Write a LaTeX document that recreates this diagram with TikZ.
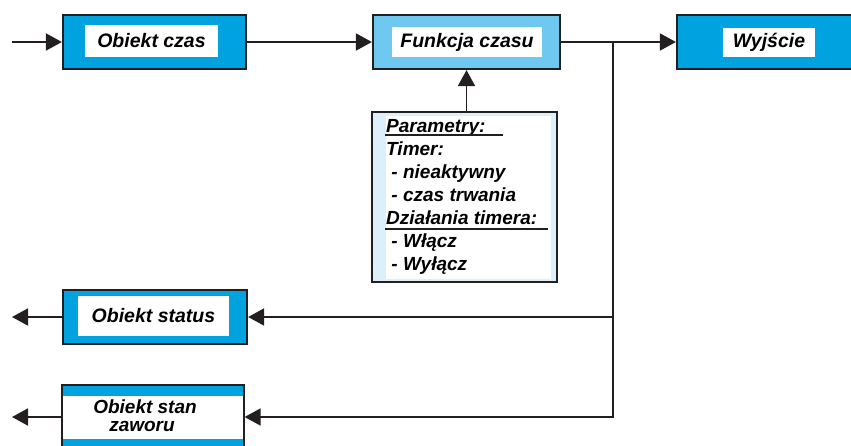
\documentclass[tikz,border=0pt]{standalone}
\usepackage{fontspec}
\setmainfont{Liberation Sans}
\usetikzlibrary{arrows.meta}
\definecolor{cyanblue}{HTML}{00A3E0}
\definecolor{lightblue}{HTML}{6FC8F0}
\definecolor{paleblue}{HTML}{DDEFFA}
\definecolor{darkline}{HTML}{231F20}
\begin{document}
\begin{tikzpicture}[x=1pt,y=-1pt,
  box/.style={draw=darkline,line width=2.2pt,inner sep=0pt,rectangle},
  innerbox/.style={fill=white,inner sep=0pt,rectangle,font=\fontsize{19.5}{20}\selectfont\bfseries\itshape},
  ptext/.style={inner sep=0pt,anchor=base west,font=\fontsize{19}{20}\selectfont\bfseries\itshape},
  ztext/.style={inner sep=0pt,anchor=base,font=\fontsize{19}{20}\selectfont\bfseries\itshape},
  conn/.style={draw=darkline,line width=1.8pt,-{Triangle[length=16pt,width=17pt]}},
  wire/.style={draw=darkline,line width=1.8pt}]
\useasboundingbox (0,0) rectangle (851,445);
\clip (0,0) rectangle (851,445);
% top row
\node[box,fill=cyanblue,minimum width=183pt,minimum height=54pt] (czas) at (154.5,42) {};
\node[innerbox,minimum width=133pt,minimum height=32pt] (czasT) at (151.5,41) {Obiekt czas};
\node[box,fill=lightblue,minimum width=187pt,minimum height=54pt] (funk) at (466.5,42) {};
\node[innerbox,minimum width=150pt,minimum height=30pt] (funkT) at (467,42) {Funkcja czasu};
\node[box,fill=cyanblue,minimum width=183pt,minimum height=54pt] (wyj) at (768.5,42) {};
\node[innerbox,minimum width=92pt,minimum height=29pt] (wyjT) at (769,42.5) {Wyjście};
% parameters box
\node[box,fill=paleblue,minimum width=185pt,minimum height=170pt] (params) at (464.5,197) {};
\node[fill=white,inner sep=0pt,minimum width=165pt,minimum height=163pt] (paramsIn) at (468,197.5) {};
\node[ptext] (p1) at (386,132) {Parametry:};
\node[ptext] (p2) at (386,155) {Timer:};
\node[ptext] (p3) at (386,178) {\ - nieaktywny};
\node[ptext] (p4) at (386,201) {\ - czas trwania};
\node[ptext] (p5) at (386,224) {Działania timera:};
\node[ptext] (p6) at (386,247) {\ - Włącz};
\node[ptext] (p7) at (386,270) {\ - Wyłącz};
\draw[darkline,line width=1.3pt] (385,135) -- (503,135);
\draw[darkline,line width=1.3pt] (385,229) -- (548,229);
% bottom boxes
\node[box,fill=cyanblue,minimum width=184pt,minimum height=54pt] (stat) at (155,317) {};
\node[innerbox,minimum width=151pt,minimum height=40pt] (statT) at (153.5,316) {Obiekt status};
\node[box,line width=1.2pt,fill=cyanblue,minimum width=182pt,minimum height=64pt] (zaw) at (153,417) {};
\node[fill=white,inner sep=0pt,minimum width=180pt,minimum height=43pt] (zawIn) at (153,417.5) {};
\node[ztext] (zaw1) at (145,413) {Obiekt stan};
\node[ztext] (zaw2) at (142,431) {zaworu};
% connectors
\coordinate (in) at (12,42);
\coordinate (J) at (613,42);
\coordinate (J1) at (613,317);
\coordinate (J2) at (613,417);
\coordinate (o1) at (12,317);
\coordinate (o2) at (12,417);
\draw[conn] (in) -- (czas.west);
\draw[conn] (czas.east) -- (funk.west);
\draw[conn] (funk.east) -- (wyj.west);
\draw[conn] (params.north -| funk.south) -- (funk.south);
\draw[conn] (J) -- (J2) -- (zaw.east);
\draw[conn] (J1) -- (stat.east);
\draw[conn] (stat.west) -- (o1);
\draw[conn] (zaw.west) -- (o2);
\end{tikzpicture}
\end{document}
